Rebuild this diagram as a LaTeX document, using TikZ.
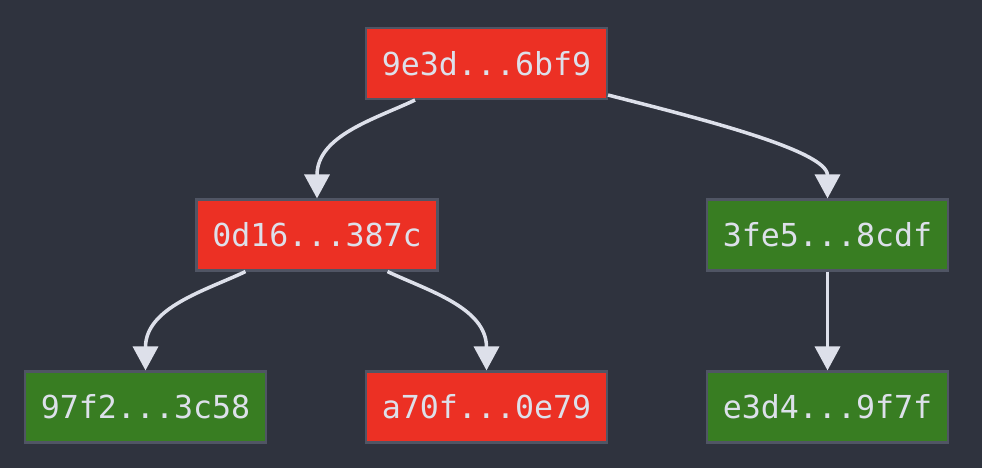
\documentclass[tikz,border=0pt]{standalone}
\usepackage{fontspec}
\usepackage{xcolor}
\usepackage{tikz}
\usetikzlibrary{positioning,calc,arrows.meta}
\setmonofont{DejaVu Sans Mono}
\definecolor{bgcol}{RGB}{47,51,62}
\definecolor{redbox}{RGB}{236,48,36}
\definecolor{greenbox}{RGB}{56,125,34}
\definecolor{boxline}{RGB}{80,85,100}
\definecolor{txtcol}{RGB}{221,224,234}
\tikzstyle{hsh}= [rectangle, draw=boxline, line width=1.2pt, minimum width=4.82cm, minimum height=1.42cm, inner sep=0pt, text=txtcol, font=\ttfamily\fontsize{18}{20}\selectfont]
\tikzstyle{bad}= [hsh, fill=redbox]
\tikzstyle{good}= [hsh, fill=greenbox]
\tikzstyle{lnk}= [draw=txtcol, line width=2pt, -{Triangle[width=0.5cm,length=0.48cm]}]

\begin{document}
\begin{tikzpicture}
				\fill[bgcol] (0,0) rectangle (19.64,-9.36);
				\useasboundingbox (0,0) rectangle (19.64,-9.36);

				\node[bad] (top)  at (9.73,-1.27) {9e3d...6bf9};
				\node[bad] (left)  at (6.34,-4.70) {0d16...387c};
				\node[good] (right)  at (16.55,-4.70) {3fe5...8cdf};
				\node[good] (ll)  at (2.91,-8.14) {97f2...3c58};
				\node[bad] (lr)  at (9.73,-8.14) {a70f...0e79};
				\node[good] (rb)  at (16.55,-8.14) {e3d4...9f7f};

				\draw[lnk] ([xshift=-1.43cm]top.south) .. controls +(-0.8,-0.38) and +(0,1.26) .. (left.north);
				\draw[lnk] ([yshift=0.1cm]top.south east) .. controls +(1.8,-0.46) and +(0,0.96) .. (right.north);
				\draw[lnk] ([xshift=-1.43cm]left.south) .. controls +(-0.8,-0.38) and +(0,1.26) .. (ll.north);
				\draw[lnk] ([xshift=1.41cm]left.south) .. controls +(0.8,-0.38) and +(0,1.26) .. (lr.north);
				\draw[lnk] (right) -- (rb);
			\end{tikzpicture}
\end{document}
